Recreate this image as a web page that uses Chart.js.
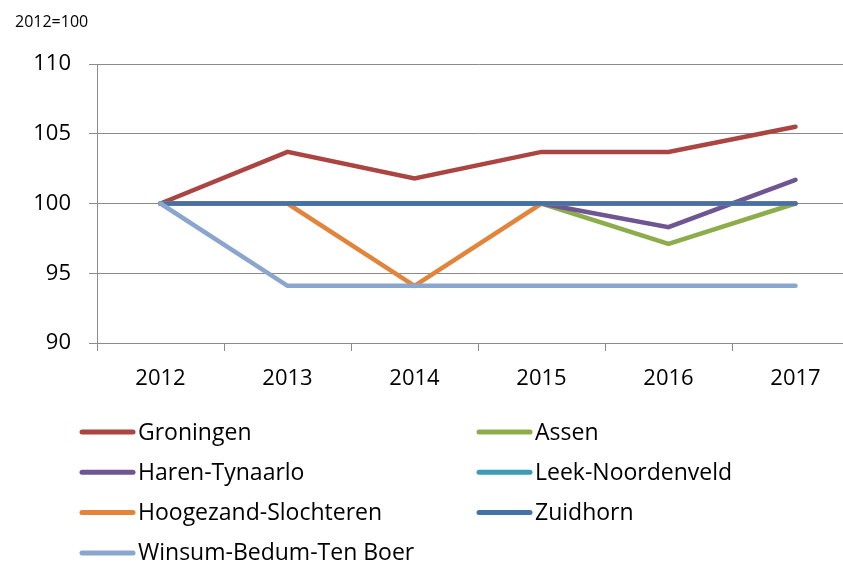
<!DOCTYPE html>
<html>
<head>
<meta charset="utf-8">
<script src="https://cdn.jsdelivr.net/npm/chart.js@4/dist/chart.umd.min.js"></script>
<style>
  body { margin: 0; overflow: hidden; background: #fff; }
  #wrap { position: relative; width: 870px; height: 561px; }
</style>
</head>
<body>
<div id="wrap"><canvas id="myChart"></canvas></div>
<script>
// data (2012=100)
let years = ['2012', '2013', '2014', '2015', '2016', '2017'];
let groningen = [100, 103.7, 101.8, 103.7, 103.7, 105.5];
let assen = [100, 100, 100, 100, 97.1, 100];
let harenTynaarlo = [100, 100, 100, 100, 98.3, 101.7];
let leekNoordenveld = [100, 100, 100, 100, 100, 100];
let hoogezandSlochteren = [100, 100, 94.1, 100, 100, 100];
let zuidhorn = [100, 100, 100, 100, 100, 100];
let winsumBedumTenBoer = [100, 94.1, 94.1, 94.1, 94.1, 94.1];
let yMin = 90, yMax = 110, yStep = 5;

let seriesNames = ['Groningen', 'Assen', 'Haren-Tynaarlo', 'Leek-Noordenveld',
    'Hoogezand-Slochteren', 'Zuidhorn', 'Winsum-Bedum-Ten Boer'];
let seriesValues = [groningen, assen, harenTynaarlo, leekNoordenveld,
    hoogezandSlochteren, zuidhorn, winsumBedumTenBoer];
let lineColors = ['#AA4542', '#8DAD4C', '#6F5592', '#3D9BB5', '#E2853B', '#4571A9', '#8AA6CF'];

const gridColor = '#8a8a8a';
const fontName = "'Open Sans', sans-serif";

let datasets = seriesNames.map((name, i) => ({
    label: name,
    data: seriesValues[i],
    borderColor: lineColors[i],
    backgroundColor: lineColors[i],
    borderWidth: 4.5,
    borderCapStyle: 'round',
    pointRadius: 0,
    tension: 0,
    fill: false,
    // later series on top, like the original
    order: seriesNames.length - i
}));

// title and two-column legend drawn straight on the canvas
const extras = {
    id: 'extras',
    afterDraw(chart) {
        const ctx = chart.ctx;
        ctx.save();
        ctx.fillStyle = '#000';
        ctx.textBaseline = 'middle';
        ctx.textAlign = 'left';
        ctx.font = '16px ' + fontName;
        ctx.fillText('2012=100', 15, 22);

        ctx.font = '23px ' + fontName;
        chart.data.datasets.forEach((ds, i) => {
            let col = i % 2;
            let row = Math.floor(i / 2);
            let x = col === 0 ? 80 : 477;
            let y = 432 + row * 40.3;
            ctx.strokeStyle = ds.borderColor;
            ctx.lineWidth = 5;
            ctx.lineCap = 'round';
            ctx.beginPath();
            ctx.moveTo(x + 2, y);
            ctx.lineTo(x + 53, y);
            ctx.stroke();
            ctx.fillStyle = '#000';
            ctx.fillText(ds.label, x + 58, y + 1);
        });
        ctx.restore();
    }
};

new Chart(document.getElementById('myChart'), {
    type: 'line',
    data: { labels: years, datasets: datasets },
    options: {
        responsive: true,
        maintainAspectRatio: false,
        animation: false,
        layout: { padding: { top: 64, right: 11, bottom: 158, left: 0 } },
        plugins: {
            legend: { display: false },
            tooltip: { enabled: false }
        },
        scales: {
            x: {
                offset: true,
                grid: {
                    offset: true,
                    drawOnChartArea: false,
                    drawTicks: true,
                    tickLength: 8,
                    color: gridColor
                },
                border: { color: gridColor, width: 1 },
                ticks: { color: '#000', font: { family: fontName, size: 22 }, padding: 15, maxRotation: 0 },
                afterFit(scale) { scale.height = 60; }
            },
            y: {
                min: yMin,
                max: yMax,
                grid: { color: gridColor, tickLength: 8, drawTicks: true },
                border: { color: gridColor, width: 1 },
                ticks: { stepSize: yStep, color: '#000', font: { family: fontName, size: 22 }, padding: 18 },
                afterFit(scale) { scale.width = 97; }
            }
        }
    },
    plugins: [extras]
});
</script>
</body>
</html>
